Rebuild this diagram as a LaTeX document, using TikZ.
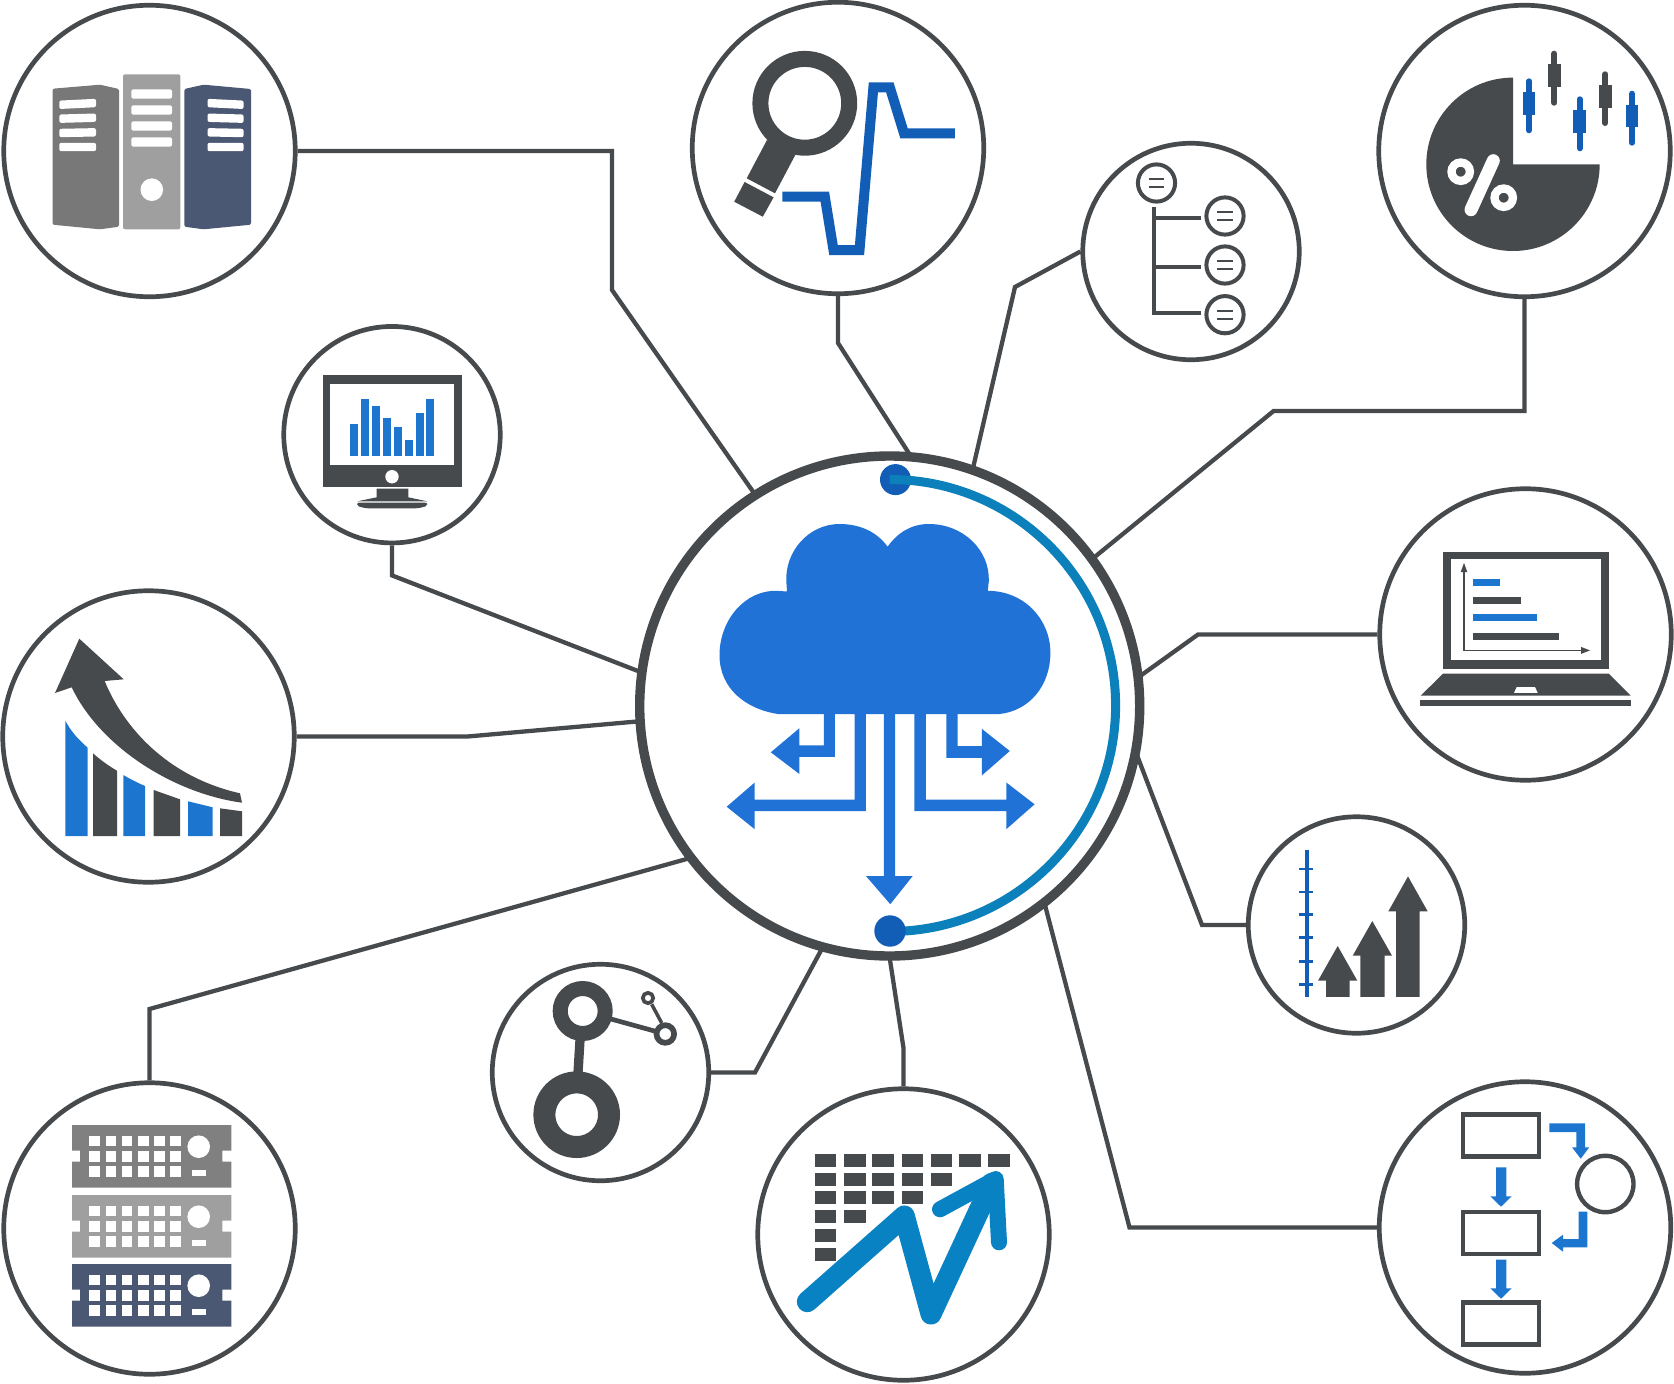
\documentclass[tikz,border=0pt]{standalone}
\definecolor{ink}{HTML}{474A4D}
\definecolor{cloudblue}{HTML}{2172D6}
\definecolor{barblue}{HTML}{1C76CF}
\definecolor{deepblue}{HTML}{125DB5}
\definecolor{teal}{HTML}{0B80BB}
\definecolor{chartblue}{HTML}{0882C3}
\definecolor{grayA}{HTML}{808080}
\definecolor{grayL}{HTML}{787878}
\definecolor{grayB}{HTML}{9F9F9F}
\definecolor{navy}{HTML}{4B5873}
\tikzset{
  bigc/.style={circle,draw=ink,line width=4.7pt,minimum size=291.5pt,inner sep=0pt},
  smallc/.style={circle,draw=ink,line width=4.7pt,minimum size=216.5pt,inner sep=0pt},
  hubc/.style={circle,draw=ink,line width=9.4pt,minimum size=500pt,inner sep=0pt},
  wire/.style={draw=ink,line width=4.3pt,line join=miter},
  flowbox/.style={draw=ink,line width=4.4pt},
  onhub/.style={shift={(#1:252pt)}}
}
\newcommand{\candlestick}[6]{%
  \draw[#6,line width=6pt,line cap=round] (#1,#2+3) -- (#1,#5-3);
  \fill[#6] (#1-6.3,#3) rectangle (#1+6.3,#4);
}
\newcommand{\treebub}[2]{%
  \draw[ink,line width=4pt] (#1,#2) circle[radius=18.6pt];
  \draw[ink,line width=2pt] (#1-7.8,#2-4.2) -- (#1+7.8,#2-4.2) (#1-7.8,#2+3.8) -- (#1+7.8,#2+3.8);
}
\begin{document}
\begin{tikzpicture}[x=1pt,y=-1pt]
\useasboundingbox (0,0) rectangle (1674,1384);
% circles
\node[hubc] (hub) at (889.7,706) {};
\node[bigc] (servers) at (149.5,151) {};
\node[bigc] (lens) at (838,148) {};
\node[smallc] (tree) at (1191,251.5) {};
\node[bigc] (pie) at (1524.5,151) {};
\node[smallc] (monitor) at (392,434.7) {};
\node[bigc] (laptop) at (1525.5,634.5) {};
\node[bigc] (growth) at (148.5,736.5) {};
\node[smallc] (rising) at (1356.5,925) {};
\node[bigc] (racks) at (149.5,1228.5) {};
\node[smallc] (network) at (600.5,1072.5) {};
\node[bigc] (chart) at (903.5,1234.5) {};
\node[bigc] (flow) at (1525,1227.5) {};
% connectors
\draw[wire] (servers.east) -- (612,151) -- (612,290) -- ([onhub=122.5]hub.center);
\draw[wire] (lens.south) -- (838,343) -- ([onhub=85.4]hub.center);
\draw[wire] (tree.west) -- (1015,287) -- ([onhub=70.7]hub.center);
\draw[wire] (pie.south) -- (1524.5,411) -- (1273.6,411) -- ([onhub=36]hub.center);
\draw[wire] (laptop.west) -- (1198,634.5) -- ([onhub=6.8]hub.center);
\draw[wire] (rising.west) -- (1202,925) -- ([onhub=-11.2]hub.center);
\draw[wire] (flow.west) -- (1129.5,1227.5) -- ([onhub=-52]hub.center);
\draw[wire] (chart.north) -- (903.5,1048) -- ([onhub=-90]hub.center);
\draw[wire] (network.east) -- (755,1072.5) -- ([onhub=-105.6]hub.center);
\draw[wire] (racks.north) -- (149.5,1009) -- ([onhub=217.2]hub.center);
\draw[wire] (growth.east) -- (467.6,736.5) -- ([onhub=183.5]hub.center);
\draw[wire] (monitor.south) -- (392,575.4) -- ([onhub=172.2]hub.center);
% hub arc and dots
\fill[deepblue] (895.5,479.6) circle[radius=15.5pt];
\draw[teal,line width=9pt] (889.6,479.5) arc[start angle=90,end angle=-90,radius=226pt];
\fill[deepblue] (890,931) circle[radius=15.7pt];
% cloud
\fill[cloudblue] (778.4,714.1) -- (998.8,714.1)
  .. controls (1030,711) and (1050.4,685) .. (1050.4,652.8)
  .. controls (1050.4,620) and (1025,591) .. (987.8,590.8)
  -- (988.8,581.2)
  .. controls (990,550) and (963,524) .. (928.9,524)
  .. controls (912,524) and (898,532) .. (887.6,546.7)
  .. controls (877,532) and (860,524) .. (839.7,524)
  .. controls (808,524) and (785,552) .. (786.3,581.2)
  -- (787,591.5) -- (776.7,590.8)
  .. controls (745,590) and (719.5,620) .. (719.5,655.2)
  .. controls (719.5,688) and (745,709) .. (778.4,714.1) -- cycle;
\fill[cloudblue] (883.8,713) -- (895.1,713) -- (895.1,876) -- (912.7,876) -- (890.3,904.2) -- (865.9,876) -- (883.8,876) -- cycle;
\fill[cloudblue] (823.9,713) -- (834.9,713) -- (834.9,756.8) -- (799.4,756.8) -- (799.4,774) -- (770.8,752.3) -- (799.4,728.2) -- (799.4,745.4) -- (823.9,745.4) -- cycle;
\fill[cloudblue] (946.4,713) -- (957.5,713) -- (957.5,746.1) -- (981.9,746.1) -- (981.9,728.9) -- (1009.8,751) -- (981.9,775.4) -- (981.9,757.8) -- (946.4,757.8) -- cycle;
\fill[cloudblue] (854.5,713) -- (865.9,713) -- (865.9,811.2) -- (754.6,811.2) -- (754.6,829.1) -- (726.7,806.7) -- (754.6,782.6) -- (754.6,799.5) -- (854.5,799.5) -- cycle;
\fill[cloudblue] (914.4,713) -- (925.8,713) -- (925.8,799.5) -- (1006.4,799.5) -- (1006.4,782.6) -- (1034.6,804.3) -- (1006.4,829.1) -- (1006.4,811.2) -- (914.4,811.2) -- cycle;
% servers
\fill[grayL,rounded corners=1.5pt] (52.5,88.7) -- (100,84.7) -- (119,89) -- (119,226.7) -- (100,229.3) -- (52.5,224.7) -- cycle;
\fill[grayB,rounded corners=2pt] (123,74.3) rectangle (180.4,229.3);
\fill[navy,rounded corners=1.5pt] (184.3,89) -- (203.6,84.7) -- (251,89) -- (251,224.7) -- (203.6,229.3) -- (184.3,226.7) -- cycle;
\foreach \pa/\pb in {104.8/103,118.7/117.7,133/132.3,147/147} {
  \fill[white,rounded corners=2pt] (59.3,\pa-4.2) -- (96,\pb-4.2) -- (96,\pb+4.2) -- (59.3,\pa+4.2) -- cycle;
  \fill[white,rounded corners=2pt] (207.5,\pb-4.2) -- (243.6,\pa-4.2) -- (243.6,\pa+4.2) -- (207.5,\pb+4.2) -- cycle;
}
\foreach \pa in {94,110,126,142}
  \fill[white,rounded corners=2pt] (131.4,\pa-4.7) rectangle (172,\pa+4.7);
\fill[white] (151.8,189.7) circle[radius=11.3pt];
% monitor
\fill[ink] (323,375) rectangle (461.7,486.7);
\fill[white] (330.4,384) rectangle (454.3,465.3);
\foreach \px/\pt in {350.4/424,361/399,372.1/405.7,382.9/417.7,393.8/427.3,404.6/440,415.7/412.7,426.1/399}
  \fill[barblue] (\px,\pt) rectangle (\px+8,456);
\fill[white] (392,476.7) circle[radius=6.7pt];
\fill[ink] (376.7,488.7) -- (408.3,488.7) -- (408.3,497.3) -- (427.3,501.3) -- (357.3,501.3) -- (376.7,497.3) -- cycle;
\fill[ink,rounded corners=2pt] (357,502.7) -- (427.3,502.7) -- (427.3,506) -- (418,508.3) -- (366,508.3) -- (357,506) -- cycle;
% magnifier and signal
\draw[ink,line width=16pt] (804.8,103.3) circle[radius=44.4pt];
\fill[ink] (767,140) -- (746.7,178.3) -- (775,193.3) -- (795.3,155) -- cycle;
\fill[ink] (744.6,182) -- (773.6,197.3) -- (762.8,216.7) -- (734.2,201.7) -- cycle;
\draw[deepblue,line width=10pt,miter limit=10] (782.3,196.7) -- (824.8,196.7) -- (833.5,250) -- (859.5,250) -- (873.4,87.3) -- (889.8,87.3) -- (904,133.3) -- (954.9,133.3);
% tree
\treebub{1156.5}{183}
\treebub{1225}{216}
\treebub{1225}{265}
\treebub{1225}{314.7}
\draw[ink,line width=4pt] (1154.4,206.7) -- (1154.4,312.7) -- (1200.8,312.7);
\draw[ink,line width=4.5pt] (1154.4,218) -- (1200.8,218) (1154.4,267) -- (1200.8,267);
% pie
\fill[ink] (1513,164.3) -- (1513,77.6) arc[start angle=90,end angle=360,radius=86.7pt] -- cycle;
\draw[white,line width=8.3pt] (1460.7,171.7) circle[radius=9.2pt] (1503.7,197.7) circle[radius=9.2pt];
\draw[white,line width=13pt,line cap=round] (1493.3,160.7) -- (1471,209.7);
\candlestick{1529}{78.3}{92.3}{115}{133.3}{deepblue}
\candlestick{1554.3}{50.7}{64.3}{87.3}{105.7}{ink}
\candlestick{1579.7}{96.3}{110.3}{133}{151.3}{deepblue}
\candlestick{1605.3}{71.3}{85.3}{108}{126}{ink}
\candlestick{1632}{90.7}{104.7}{127.3}{145.7}{deepblue}
% laptop
\fill[ink] (1443,551.8) rectangle (1608.7,669.3);
\fill[white] (1451,558.6) rectangle (1601,659.6);
\fill[ink] (1443,673.6) -- (1608.7,673.6) -- (1630.7,695.7) -- (1420.7,695.7) -- cycle;
\fill[white] (1516.7,687) -- (1535,687) -- (1537.7,692.9) -- (1514,692.9) -- cycle;
\fill[ink] (1420.3,699.6) rectangle (1631,705.7);
\draw[ink,line width=1.6pt] (1463.7,570) -- (1463.7,650.4) -- (1583,650.4);
\fill[ink] (1464,562.9) -- (1467.3,572) -- (1460.7,572) -- cycle;
\fill[ink] (1590,650.4) -- (1581,646.9) -- (1581,653.9) -- cycle;
\fill[barblue] (1472.7,579) rectangle (1500,586);
\fill[ink] (1472.7,596.8) rectangle (1521,604);
\fill[barblue] (1472.7,614) rectangle (1537,621);
\fill[ink] (1472.7,632.5) rectangle (1559,639.6);
% growth bars
\fill[barblue] (65.3,836) -- (65.3,720.7) .. controls (72,733) and (79,740) .. (87.7,747.7) -- (87.7,836) -- cycle;
\fill[ink] (93,836) -- (93,753.3) .. controls (100,759.5) and (108,765.5) .. (117,770.7) -- (117,836) -- cycle;
\fill[barblue] (123.3,836) -- (123.3,775) .. controls (130,779) and (137,782.5) .. (145,786) -- (145,836) -- cycle;
\fill[ink] (153.7,836) -- (153.7,790) -- (180,799.3) -- (180,836) -- cycle;
\fill[barblue] (188,836) -- (188,801.3) -- (212.7,807.3) -- (212.7,836) -- cycle;
\fill[ink] (220,836) -- (220,808.3) -- (242,811.3) -- (242,836) -- cycle;
\fill[ink] (79.3,638.7) -- (123.7,679.3) -- (104.7,681)
  .. controls (123.3,726.7) and (166.7,776.7) .. (240,793.3)
  -- (242,802.7)
  .. controls (173.3,793.3) and (100,746.7) .. (71.7,687.3)
  -- (55,693) -- cycle;
% rising arrows
\draw[deepblue,line width=3.7pt] (1307,849.6) -- (1307,996.8);
\foreach \py in {869,892,914.3,937.5,961.4,984.6}
  \draw[deepblue,line width=2.8pt] (1299.3,\py) -- (1312.7,\py);
\fill[ink] (1337.7,946) -- (1357.3,980.7) -- (1349.7,980.7) -- (1349.7,996.8) -- (1326,996.8) -- (1326,980.7) -- (1318,980.7) -- cycle;
\fill[ink] (1372.3,921) -- (1392,955.7) -- (1384.7,955.7) -- (1384.7,996.8) -- (1360.3,996.8) -- (1360.3,955.7) -- (1352.7,955.7) -- cycle;
\fill[ink] (1408,876.4) -- (1427.7,911.4) -- (1419.7,911.4) -- (1419.7,996.8) -- (1396,996.8) -- (1396,911.4) -- (1388.3,911.4) -- cycle;
% flow
\draw[flowbox] (1462.9,1114.5) rectangle (1539.1,1156.5);
\draw[flowbox] (1462.9,1211.9) rectangle (1539.1,1253.8);
\draw[flowbox] (1462.9,1302.5) rectangle (1539.1,1344.5);
\draw[ink,line width=4.4pt] (1605.3,1184) circle[radius=28.2pt];
\fill[barblue] (1496,1167.3) -- (1506.3,1167.3) -- (1506.3,1196.3) -- (1511.7,1196.3) -- (1501,1206.7) -- (1490.3,1196.3) -- (1496,1196.3) -- cycle;
\fill[barblue] (1496,1259.7) -- (1506.3,1259.7) -- (1506.3,1288.3) -- (1511.7,1288.3) -- (1501,1298.7) -- (1490.3,1288.3) -- (1496,1288.3) -- cycle;
\fill[barblue] (1549.3,1123.3) -- (1585,1123.3) -- (1585,1147.3) -- (1589.3,1147.3) -- (1580.7,1158.7) -- (1572,1147.3) -- (1576.3,1147.3) -- (1576.3,1132) -- (1549.3,1132) -- cycle;
\fill[barblue] (1578.7,1211.7) -- (1587.3,1211.7) -- (1587.3,1247.3) -- (1563,1247.3) -- (1563,1251.7) -- (1551.7,1243) -- (1563,1234.7) -- (1563,1239) -- (1578.7,1239) -- cycle;
% chart
\foreach \px in {814.7,844.3,872.3,901.7,930.7,959,988.3}
  \fill[ink] (\px,1154.3) rectangle (\px+21.7,1167.3);
\foreach \px in {814.7,844.3,872.3,901.7,930.7}
  \fill[ink] (\px,1172.7) rectangle (\px+21.7,1185.7);
\foreach \px in {814.7,844.3,872.3,901.7}
  \fill[ink] (\px,1191.3) rectangle (\px+21.7,1204.3);
\foreach \px in {814.7,844.3}
  \fill[ink] (\px,1209.7) rectangle (\px+21.7,1222.7);
\fill[ink] (814.7,1229.3) rectangle (836.4,1242.3);
\fill[ink] (814.7,1247.7) rectangle (836.4,1260.7);
\draw[chartblue,line width=21pt,line cap=round,line join=round] (807.3,1301.7) -- (904.3,1216) -- (931,1314) -- (991.7,1183.3);
\draw[chartblue,line width=16pt,line cap=round,line join=round] (940,1209.3) -- (995.7,1179) -- (999,1242.3);
% racks
\foreach \pt/\pc in {1125/grayA,1195/grayB,1264/navy} {
  \begin{scope}[shift={(0,\pt)}]
    \fill[\pc] (72,0) -- (231.3,0) -- (231.3,25.7) -- (222.3,25.7) -- (222.3,36.7) -- (231.3,36.7) -- (231.3,62.5) -- (72,62.5) -- (72,36.7) -- (80,36.7) -- (80,25.7) -- (72,25.7) -- cycle;
    \foreach \px in {89.3,105.7,121.7,138,154,170.3}
      \foreach \py in {10.7,26,41.3}
        \fill[white] (\px,\py) rectangle (\px+10.7,\py+10.7);
    \fill[white] (198.7,21.7) circle[radius=11.3pt];
    \fill[white] (191.7,45.3) rectangle (205.7,51.3);
  \end{scope}
}
% network
\draw[ink,line width=9.3pt] (580,1040) -- (578,1073);
\draw[ink,line width=4.7pt] (611,1019) -- (657,1031.7);
\draw[ink,line width=3.5pt] (651.7,1004.3) -- (661.7,1023);
\draw[ink,line width=22pt] (576.7,1114.7) circle[radius=32.3pt];
\draw[ink,line width=15pt] (582.7,1011) circle[radius=22.5pt];
\draw[ink,line width=5.7pt] (665.3,1034) circle[radius=8.8pt];
\draw[ink,line width=3.7pt] (648,998) circle[radius=5.2pt];
\end{tikzpicture}
\end{document}
